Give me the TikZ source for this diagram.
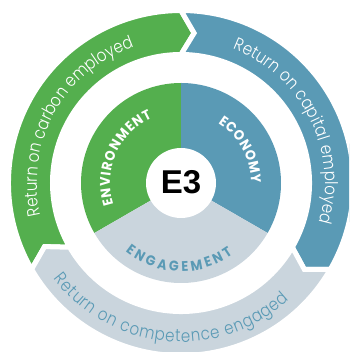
\documentclass[tikz,border=0pt]{standalone}
\usepackage{fontspec}
\setmainfont{Poppins}
\newfontfamily\ringfont[FakeStretch=0.86]{Poppins Light}
\newfontfamily\capsfont[FakeStretch=0.92]{Poppins Bold}
\newfontfamily\markfont{Liberation Sans}
\usepackage{tikz}
\usetikzlibrary{decorations.text}

\definecolor{envgreen}{HTML}{54AF4E}
\definecolor{ecoblue}{HTML}{5A9AB5}
\definecolor{enggrey}{HTML}{CAD5DD}

\tikzset{
    segment/.style={fill=#1, draw=white, line width=5pt, line join=miter},
    sector/.style={fill=#1}
}

\def\ro{172.5}
\def\ri{128.5}
\def\rm{150.5}
\def\rdisk{100}
\def\tip{5}

\begin{document}
\begin{tikzpicture}[x=1pt, y=1pt]
    \clip (-181,-169) rectangle (168,183);
    \fill[white] (-181,-169) rectangle (168,183);

    % outer ring, three arrows running clockwise
    \foreach \s/\e/\co in {210/90/envgreen, 90/-30/ecoblue, -30/-150/enggrey}
    {
        \draw[segment=\co]
            (\s:\ro) arc[start angle=\s, end angle=\e, radius=\ro]
            -- (\e-\tip:\rm)
            -- (\e:\ri) arc[start angle=\e, end angle=\s, radius=\ri]
            -- (\s-\tip:\rm) -- cycle;
    }

    % inner disk
    \foreach \s/\e/\co in {90/210/envgreen, -30/90/ecoblue, 210/330/enggrey}
    {
        \fill[sector=\co] (0,0) -- (\s:\rdisk)
            arc[start angle=\s, end angle=\e, radius=\rdisk] -- cycle;
    }
    \fill[white] (0,0) circle[radius=35];
    \node[font=\markfont\bfseries\fontsize{33}{33}\selectfont, inner sep=0] (e3) at (0,1) {E3};

    % texts along the rings
    \foreach \from/\to/\rad/\co/\txt in {
        193/109/144/white/Return on carbon employed,
        69/-16/144/white/Return on capital employed,
        217/313/159/ecoblue/Return on competence engaged}
    {
        \ringfont\fontsize{17.5}{17.5}\selectfont
        \path[decorate, decoration={text along path, text/.expanded=\txt,
                text color=\co, text align={fit to path}}]
            (\from:\rad) arc[start angle=\from, end angle=\to, radius=\rad];
    }
    \foreach \from/\to/\rad/\co/\txt in {
        198/114/71/white/ENVIRONMENT,
        58/0/70/white/ECONOMY,
        231/306/88.5/ecoblue/ENGAGEMENT}
    {
        \capsfont\fontsize{14}{14}\selectfont
        \path[decorate, decoration={text along path, text/.expanded=\txt,
                text color=\co, text align={fit to path}}]
            (\from:\rad) arc[start angle=\from, end angle=\to, radius=\rad];
    }
\end{tikzpicture}
\end{document}
